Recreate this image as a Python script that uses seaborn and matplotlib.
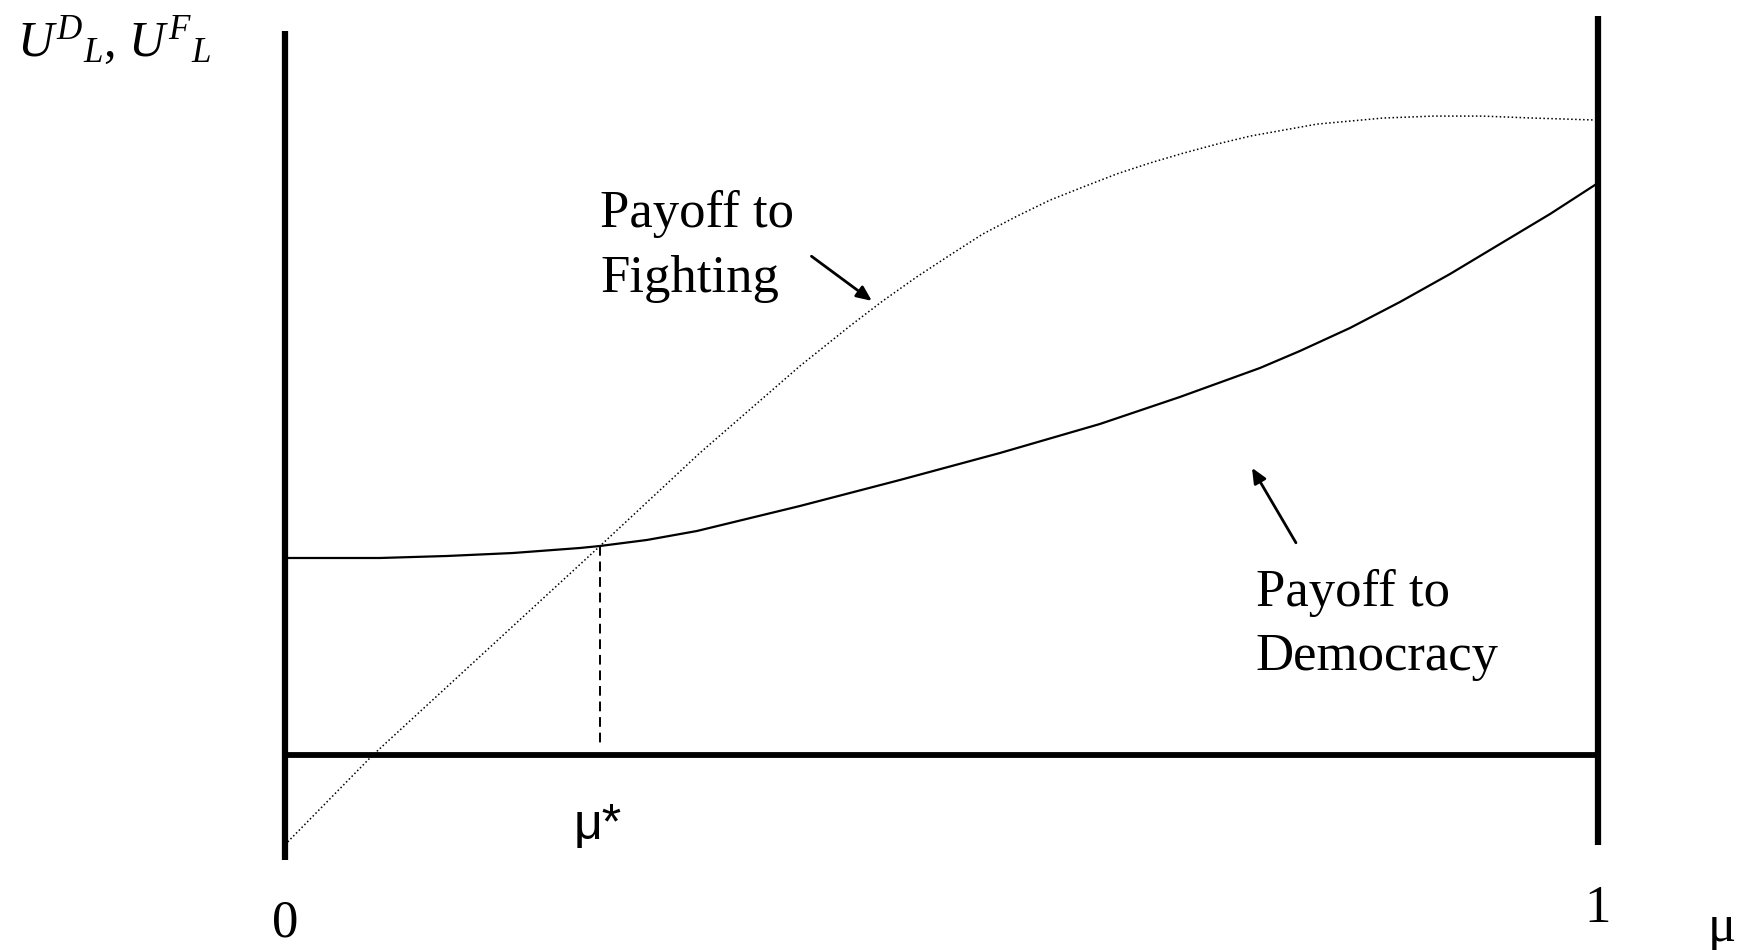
import matplotlib
matplotlib.use('Agg')
import matplotlib.pyplot as plt
import seaborn as sns

# values (mu on x, payoff on y; horizontal axis at y=0, democracy(1)=1)
mu_democracy = [0.0, 0.0724, 0.1234, 0.1736, 0.2247, 0.24, 0.2757, 0.3138, 0.3922, 0.4684,
                0.5446, 0.6207, 0.6816, 0.7426, 0.773, 0.8111, 0.8492, 0.8873, 0.9254,
                0.9635, 1.0]
payoff_democracy = [0.3444, 0.3444, 0.3479, 0.3531, 0.3619, 0.3654, 0.3759, 0.3916, 0.4353,
                    0.4808, 0.528, 0.5787, 0.6259, 0.6766, 0.7063, 0.7465, 0.792, 0.8409,
                    0.8934, 0.9458, 1.0]

mu_fighting = [0.0, 0.067, 0.24, 0.316, 0.3922, 0.4303, 0.4554, 0.4813, 0.5065, 0.5316,
               0.5575, 0.5826, 0.6078, 0.6337, 0.6588, 0.6839, 0.7098, 0.735, 0.786,
               0.8363, 0.8743, 0.9124, 0.9505, 1.0]
payoff_fighting = [-0.157, 0.0, 0.3654, 0.528, 0.680, 0.750, 0.794, 0.836, 0.874, 0.911,
                   0.942, 0.970, 0.993, 1.016, 1.035, 1.052, 1.068, 1.082, 1.103,
                   1.1136, 1.117, 1.117, 1.1136, 1.110]

mu_star = 0.24
payoff_star = 0.3654

label_fighting = ['Payoff to', 'Fighting']
label_democracy = ['Payoff to', 'Democracy']
tick_labels = ['0', '1']

sns.set_style('white')
plt.rcParams['font.family'] = ['Liberation Serif', 'DejaVu Serif']
plt.rcParams['text.color'] = 'black'
plt.rcParams['mathtext.fontset'] = 'custom'
plt.rcParams['mathtext.it'] = 'Liberation Serif:italic'
plt.rcParams['mathtext.rm'] = 'Liberation Serif'

fig = plt.figure(figsize=(17.5, 9.5), dpi=100)
ax = fig.add_axes([0, 0, 1, 1])
ax.set_xlim(-0.217, 1.1158)
ax.set_ylim(-0.341, 1.320)
ax.axis('off')

# frame of the diagram
ax.plot([0, 0], [-0.184, 1.266], color='black', lw=4.5, solid_capstyle='butt')
ax.plot([1, 1], [-0.157, 1.292], color='black', lw=4.5, solid_capstyle='butt')
ax.plot([0, 1], [0, 0], color='black', lw=4.2, solid_capstyle='butt')

# curves
sns.lineplot(x=mu_democracy, y=payoff_democracy, ax=ax, color='black', lw=1.6,
             sort=False, estimator=None)
sns.lineplot(x=mu_fighting, y=payoff_fighting, ax=ax, color='black', lw=1.1,
             linestyle=(0, (1, 1.6)), sort=False, estimator=None)

# dashed drop line at mu*
ax.plot([mu_star, mu_star], [payoff_star, 0.014], color='black', lw=1.4,
        linestyle=(0, (5, 3)))

# labels
fs = 38
ax.text(0.24, 0.923, label_fighting[0], fontsize=fs, va='baseline', ha='left')
ax.text(0.24, 0.809, label_fighting[1], fontsize=fs, va='baseline', ha='left')
ax.text(0.7395, 0.2605, label_democracy[0], fontsize=fs, va='baseline', ha='left')
ax.text(0.7395, 0.1486, label_democracy[1], fontsize=fs, va='baseline', ha='left')

ax.annotate('', xy=(0.447, 0.794), xytext=(0.401, 0.872),
            arrowprops=dict(arrowstyle='-|>,head_length=0.9,head_width=0.4',
                            color='black', lw=2, shrinkA=0, shrinkB=0))
ax.annotate('', xy=(0.7365, 0.502), xytext=(0.770, 0.371),
            arrowprops=dict(arrowstyle='-|>,head_length=0.9,head_width=0.4',
                            color='black', lw=2, shrinkA=0, shrinkB=0))

ax.text(0, -0.318, tick_labels[0], fontsize=fs, ha='center', va='baseline')
ax.text(1, -0.292, tick_labels[1], fontsize=fs, ha='center', va='baseline')
ax.text(1.094, -0.325, 'μ', fontsize=fs, ha='center', va='baseline')
ax.text(0.238, -0.147, 'μ*', fontsize=36, ha='center', va='baseline',
        family=['Liberation Sans', 'DejaVu Sans'])

ax.text(-0.204, 1.222, r'$U^{D}{}_{L}$, $U^{F}{}_{L}$', fontsize=36,
        ha='left', va='baseline')

fig.savefig('out.png', dpi=100)
